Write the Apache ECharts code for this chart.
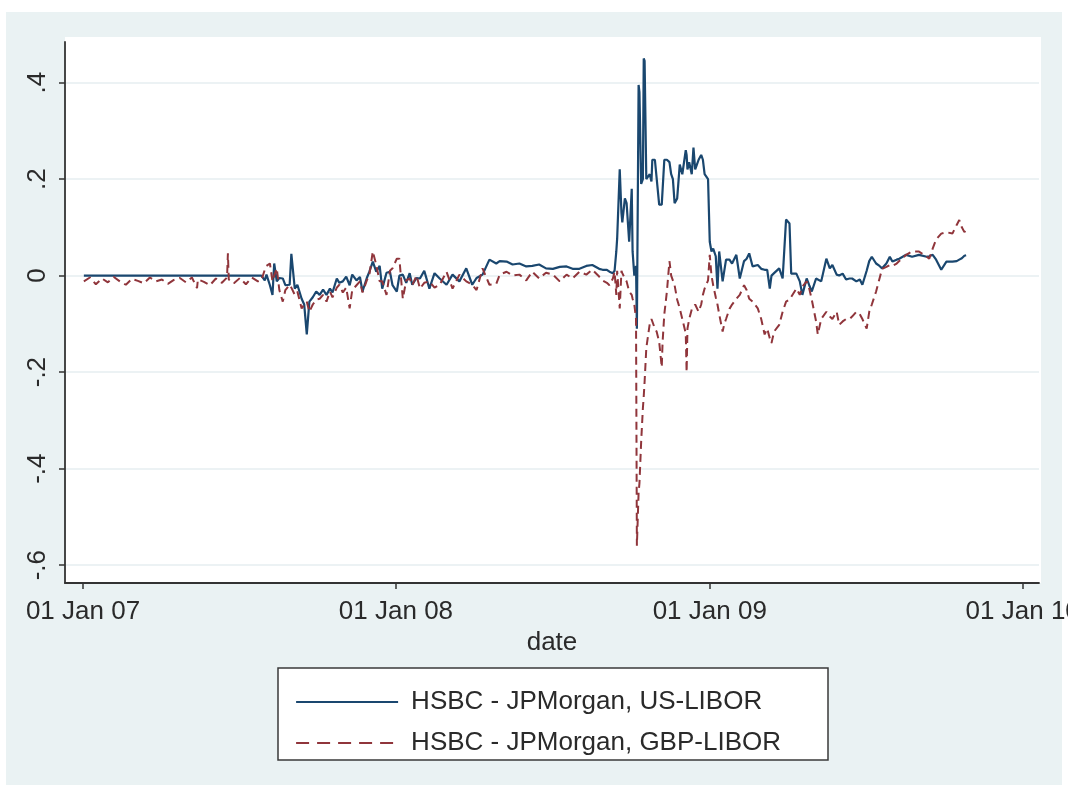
<!DOCTYPE html>
<html>
<head>
<meta charset="utf-8">
<title>HSBC - JPMorgan LIBOR spreads</title>
<script src="https://cdn.jsdelivr.net/npm/echarts@6/dist/echarts.min.js"></script>
<style>
  html, body { margin: 0; padding: 0; background: #ffffff; }
  #chart { width: 1068px; height: 797px; }
</style>
</head>
<body>
<div id="chart"></div>
<script>
// Observation dates shared by both spread series
const dates = [
  '2007-01-02','2007-01-09','2007-01-16','2007-01-23','2007-01-30','2007-02-06','2007-02-13','2007-02-20','2007-02-27',
  '2007-03-06','2007-03-13','2007-03-20','2007-03-27','2007-04-03','2007-04-10','2007-04-17','2007-04-24','2007-05-01',
  '2007-05-08','2007-05-14','2007-05-15','2007-05-22','2007-05-29','2007-06-05','2007-06-12','2007-06-18','2007-06-19',
  '2007-06-20','2007-06-26','2007-07-03','2007-07-10','2007-07-17','2007-07-24','2007-07-28','2007-08-01','2007-08-03',
  '2007-08-07','2007-08-10','2007-08-12','2007-08-15','2007-08-18','2007-08-22','2007-08-25','2007-08-30','2007-09-01',
  '2007-09-05','2007-09-08','2007-09-13','2007-09-16','2007-09-19','2007-09-22','2007-09-26','2007-09-30','2007-10-04',
  '2007-10-08','2007-10-12','2007-10-16','2007-10-19','2007-10-24','2007-10-27','2007-10-31','2007-11-04','2007-11-08',
  '2007-11-11','2007-11-16','2007-11-20','2007-11-23','2007-11-28','2007-12-01','2007-12-05','2007-12-09','2007-12-13',
  '2007-12-16','2007-12-21','2007-12-25','2007-12-28','2008-01-02','2008-01-05','2008-01-09','2008-01-13','2008-01-17',
  '2008-01-20','2008-01-25','2008-01-29','2008-02-03','2008-02-09','2008-02-15','2008-02-21','2008-02-29','2008-03-07',
  '2008-03-15','2008-03-23','2008-03-30','2008-04-04','2008-04-11','2008-04-19','2008-04-27','2008-05-01','2008-05-09',
  '2008-05-16','2008-05-24','2008-06-01','2008-06-08','2008-06-16','2008-06-24','2008-07-02','2008-07-10','2008-07-18',
  '2008-07-25','2008-08-02','2008-08-10','2008-08-17','2008-08-25','2008-08-29','2008-09-03','2008-09-06','2008-09-10',
  '2008-09-12','2008-09-14','2008-09-15','2008-09-18','2008-09-20','2008-09-21','2008-09-24','2008-09-26','2008-09-29',
  '2008-10-02','2008-10-03','2008-10-05','2008-10-07','2008-10-08','2008-10-10','2008-10-11','2008-10-13','2008-10-15',
  '2008-10-16','2008-10-17','2008-10-19','2008-10-23','2008-10-25','2008-10-26','2008-10-29','2008-10-31','2008-11-03',
  '2008-11-06','2008-11-07','2008-11-09','2008-11-12','2008-11-15','2008-11-17','2008-11-19','2008-11-21','2008-11-23',
  '2008-11-24','2008-11-27','2008-11-30','2008-12-04','2008-12-05','2008-12-06','2008-12-08','2008-12-11','2008-12-13',
  '2008-12-15','2008-12-17','2008-12-19','2008-12-22','2008-12-24','2008-12-26','2008-12-30','2009-01-01','2009-01-03',
  '2009-01-05','2009-01-08','2009-01-10','2009-01-12','2009-01-16','2009-01-18','2009-01-20','2009-01-24','2009-01-27',
  '2009-02-01','2009-02-05','2009-02-10','2009-02-13','2009-02-16','2009-02-20','2009-02-26','2009-03-02','2009-03-06',
  '2009-03-09','2009-03-12','2009-03-14','2009-03-17','2009-03-23','2009-03-27','2009-03-31','2009-04-04','2009-04-06',
  '2009-04-12','2009-04-16','2009-04-19','2009-04-24','2009-04-27','2009-04-30','2009-05-05','2009-05-07','2009-05-11',
  '2009-05-17','2009-05-21','2009-05-24','2009-05-29','2009-06-01','2009-06-05','2009-06-09','2009-06-13','2009-06-16',
  '2009-06-21','2009-06-25','2009-06-28','2009-07-03','2009-07-06','2009-07-09','2009-07-14','2009-07-18','2009-07-21',
  '2009-07-26','2009-07-30','2009-08-02','2009-08-07','2009-08-10','2009-08-18','2009-08-25','2009-09-02','2009-09-11',
  '2009-09-14','2009-09-18','2009-09-22','2009-09-28','2009-10-04','2009-10-11','2009-10-16','2009-10-19','2009-10-22',
  '2009-10-25','2009-10-27'
];

// HSBC minus JPMorgan, US-LIBOR quote
const usLibor = [
  0,0,0,0,0,0,0,0,0,
  0,0,0,0,0,0,0,0,0,
  0,0,0,0,0,0,0,0,0,
  0,0,0,0,0,0,0,-0.01,0.002,
  -0.02,-0.04,0.025,-0.012,-0.005,-0.006,-0.02,-0.019,0.045,
  -0.027,-0.019,-0.048,-0.06,-0.122,-0.054,-0.045,-0.033,-0.04,
  -0.029,-0.04,-0.027,-0.035,-0.006,-0.015,-0.012,-0.002,-0.02,
  0.002,-0.01,-0.003,-0.033,-0.005,0.008,0.029,0.008,0.02,
  -0.027,0.006,0.008,-0.02,-0.033,0,0.002,-0.015,0.005,
  -0.019,-0.005,-0.006,0.01,-0.027,0.005,-0.006,-0.019,0.002,
  -0.012,0.015,-0.019,-0.005,0.002,0.033,0.025,0.03,0.029,
  0.023,0.025,0.019,0.02,0.023,0.015,0.014,0.018,0.019,
  0.014,0.014,0.02,0.022,0.014,0.012,0.012,0.008,0.005,
  0.01,0.05,0.077,0.22,0.13,0.11,0.16,0.15,0.07,
  0.18,0.05,0.0,0.02,-0.11,0.395,0.38,0.19,0.2,
  0.45,0.445,0.2,0.21,0.195,0.24,0.24,0.24,0.147,
  0.147,0.15,0.24,0.24,0.235,0.21,0.2,0.15,0.15,
  0.16,0.23,0.21,0.26,0.25,0.22,0.235,0.21,0.265,
  0.22,0.23,0.24,0.25,0.24,0.21,0.2,0.07,0.05,
  0.056,0.04,-0.027,0.05,-0.012,-0.016,0.033,0.033,0.025,
  0.043,-0.006,0.03,0.035,0.046,0.019,0.022,0.014,0.012,
  0.012,-0.027,0.0,0.005,0.015,-0.006,0.116,0.108,0.004,
  0.004,-0.012,-0.04,-0.006,-0.02,-0.033,-0.006,-0.01,-0.012,
  0.035,0.015,0.022,0.002,0.0,0.004,-0.008,-0.006,-0.006,
  -0.012,-0.008,-0.019,0.01,0.03,0.039,0.025,0.02,0.015,
  0.025,0.039,0.029,0.033,0.035,0.043,0.039,0.043,0.039,
  0.04,0.043,0.033,0.012,0.029,0.029,0.03,0.033,0.036,
  0.041,0.042
];

// HSBC minus JPMorgan, GBP-LIBOR quote
const gbpLibor = [
  -0.012,-0.004,-0.018,-0.006,-0.014,-0.003,-0.012,-0.019,-0.007,
  -0.011,-0.016,-0.004,-0.012,-0.008,-0.017,-0.009,-0.005,-0.014,
  -0.004,-0.026,-0.008,-0.013,-0.02,-0.006,-0.015,-0.004,0.046,
  -0.008,-0.016,-0.005,-0.018,-0.004,-0.012,-0.01,0.012,0.02,
  0.025,-0.012,0.0,0.015,-0.03,-0.054,-0.03,-0.019,-0.025,
  -0.04,-0.033,-0.068,-0.06,-0.054,-0.075,-0.06,-0.05,-0.048,
  -0.04,-0.054,-0.033,-0.045,-0.025,-0.019,-0.035,-0.025,-0.068,
  -0.03,-0.02,-0.012,-0.035,-0.01,0.002,0.05,0.022,-0.012,
  -0.012,-0.04,0.01,0.015,0.035,0.035,-0.048,-0.01,-0.006,
  -0.02,0.0,-0.027,-0.015,-0.012,-0.025,-0.019,0.008,-0.027,
  0.002,-0.012,-0.019,-0.03,0.015,-0.019,-0.017,0.002,0.008,
  0.0,0.002,-0.01,0.008,-0.006,0.006,0.002,-0.012,0.002,
  -0.006,0.008,0.002,0.012,-0.002,-0.01,-0.015,-0.02,-0.006,
  0.008,-0.04,0.01,-0.068,0.01,0.005,-0.006,-0.012,-0.033,
  -0.04,-0.048,-0.06,-0.09,-0.56,-0.45,-0.43,-0.344,-0.275,
  -0.25,-0.22,-0.15,-0.1,-0.09,-0.09,-0.11,-0.116,-0.137,
  -0.19,-0.137,-0.08,-0.033,0.03,0.0,0.002,-0.02,-0.04,
  -0.05,-0.068,-0.09,-0.12,-0.2,-0.11,-0.09,-0.07,-0.068,
  -0.06,-0.06,-0.075,-0.06,-0.04,-0.027,-0.01,0.043,0.0,
  -0.02,-0.045,-0.06,-0.08,-0.116,-0.1,-0.09,-0.069,-0.06,
  -0.048,-0.04,-0.02,-0.03,-0.048,-0.054,-0.068,-0.09,-0.122,
  -0.11,-0.13,-0.14,-0.116,-0.102,-0.075,-0.054,-0.05,-0.048,
  -0.027,-0.04,-0.023,-0.012,-0.027,-0.05,-0.095,-0.122,-0.09,
  -0.075,-0.085,-0.09,-0.075,-0.102,-0.095,-0.09,-0.09,-0.085,
  -0.075,-0.08,-0.09,-0.11,-0.075,-0.06,-0.033,-0.006,0.014,
  0.018,0.022,0.02,0.025,0.03,0.043,0.05,0.05,0.039,
  0.035,0.056,0.075,0.087,0.09,0.087,0.105,0.115,0.1,
  0.09,0.095
];

const seriesNames = ['HSBC - JPMorgan, US-LIBOR', 'HSBC - JPMorgan, GBP-LIBOR'];
const yTickValues = [-0.6, -0.4, -0.2, 0, 0.2, 0.4];
const xTickDates = ['2007-01-01', '2008-01-01', '2009-01-01', '2010-01-01'];
const xAxisTitle = 'date';

const FONT = '"Liberation Sans", Arial, Helvetica, sans-serif';
const TEXT = '#2a2a2a';
const NAVY = '#1a476f';
const MAROON = '#90353b';
const MONTHS = ['Jan','Feb','Mar','Apr','May','Jun','Jul','Aug','Sep','Oct','Nov','Dec'];

const toTime = s => Date.parse(s);
const usData = dates.map((d, i) => [toTime(d), usLibor[i]]);
const gbpData = dates.map((d, i) => [toTime(d), gbpLibor[i]]);

function fmtDate(v) {
  const d = new Date(v);
  const dd = String(d.getUTCDate()).padStart(2, '0');
  const yy = String(d.getUTCFullYear() % 100).padStart(2, '0');
  return dd + ' ' + MONTHS[d.getUTCMonth()] + ' ' + yy;
}
function fmtY(v) {
  if (Math.abs(v) < 1e-9) return '0';
  const s = Math.abs(v).toFixed(1).replace(/^0/, '');
  return (v < 0 ? '-' : '') + s;
}

const chart = echarts.init(document.getElementById('chart'), null, { renderer: 'canvas' });

chart.setOption({
  animation: false,
  backgroundColor: '#ffffff',
  textStyle: { fontFamily: FONT },
  graphic: [
    // graph region and plot region backgrounds
    { type: 'rect', z: -100, silent: true,
      shape: { x: 6, y: 12, width: 1056, height: 773 },
      style: { fill: '#eaf2f3' } },
    { type: 'rect', z: -99, silent: true,
      shape: { x: 65, y: 37, width: 976, height: 546 },
      style: { fill: '#ffffff' } },
    // legend frame
    { type: 'rect', z: 10, silent: true,
      shape: { x: 278, y: 668, width: 550, height: 92 },
      style: { fill: '#ffffff', stroke: '#3a3a3a', lineWidth: 1.5 } }
  ],
  grid: { left: 65, right: 29, top: 42, bottom: 214, containLabel: false, outerBoundsMode: 'none' },
  legend: {
    orient: 'vertical',
    left: 290, top: 684,
    z: 20,
    itemWidth: 102, itemHeight: 14, itemGap: 15,
    selectedMode: false,
    itemStyle: { color: 'rgba(0,0,0,0)', borderWidth: 0, opacity: 0 },
    data: [
      { name: seriesNames[0], lineStyle: { width: 2.2 } },
      { name: seriesNames[1], lineStyle: { width: 2.2, type: [13, 8] } }
    ],
    textStyle: { fontSize: 26, lineHeight: 26, color: TEXT, fontFamily: FONT, padding: [0, 0, 0, 8] }
  },
  xAxis: {
    type: 'value',
    min: Date.UTC(2006, 11, 11),
    max: Date.UTC(2010, 0, 20),
    name: xAxisTitle,
    nameLocation: 'middle',
    nameGap: 46,
    nameTextStyle: { fontSize: 26, color: TEXT, fontFamily: FONT },
    axisLine: { show: true, onZero: false, lineStyle: { color: '#333333', width: 1.8 } },
    axisTick: { show: true, length: 6, customValues: xTickDates.map(toTime),
      lineStyle: { color: '#333333', width: 1.5 } },
    axisLabel: { customValues: xTickDates.map(toTime), formatter: fmtDate,
      fontSize: 26, color: TEXT, margin: 16, fontFamily: FONT },
    splitLine: { show: false }
  },
  yAxis: {
    type: 'value',
    min: -0.637,
    max: 0.484,
    axisLine: { show: true, onZero: false, lineStyle: { color: '#333333', width: 1.8 } },
    axisTick: { show: true, length: 6, customValues: yTickValues,
      lineStyle: { color: '#333333', width: 1.5 } },
    axisLabel: { customValues: yTickValues, formatter: fmtY, rotate: 90,
      fontSize: 26, color: TEXT, margin: 14, fontFamily: FONT },
    splitLine: { show: true, lineStyle: { color: '#e6eef0', width: 1.6 } }
  },
  series: [
    {
      name: seriesNames[0], type: 'line', data: usData,
      symbol: 'none', showSymbol: false, z: 3,
      lineStyle: { color: NAVY, width: 2.2 },
      itemStyle: { color: NAVY }
    },
    {
      name: seriesNames[1], type: 'line', data: gbpData,
      symbol: 'none', showSymbol: false, z: 4,
      lineStyle: { color: MAROON, width: 2, type: [8, 5] },
      itemStyle: { color: MAROON }
    }
  ]
});
</script>
</body>
</html>
